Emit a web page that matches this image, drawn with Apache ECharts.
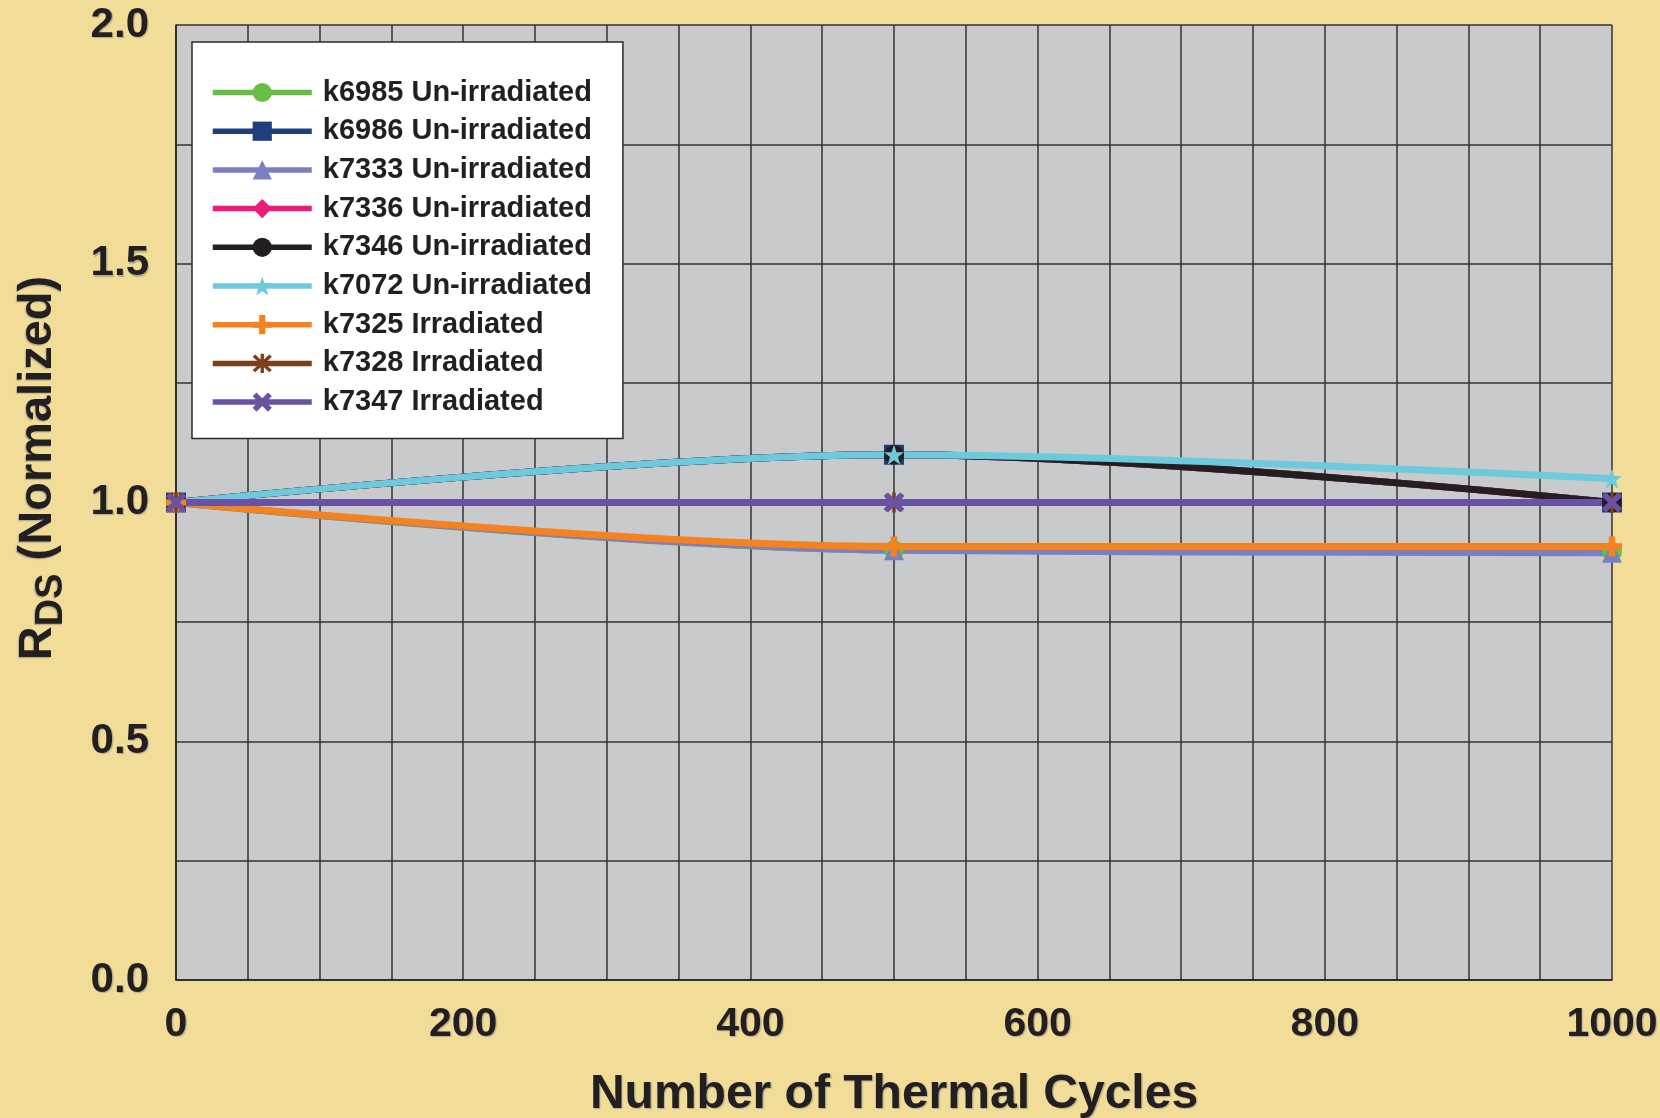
<!DOCTYPE html>
<html>
<head>
<meta charset="utf-8">
<title>RDS vs Thermal Cycles</title>
<script src="https://cdn.jsdelivr.net/npm/echarts@6/dist/echarts.min.js"></script>
<style>
  html, body { margin: 0; padding: 0; background: #f1dd97; }
  #chart { width: 1660px; height: 1118px; }
</style>
</head>
<body>
<div id="chart"></div>
<script>
// Thermal cycle counts at which R_DS was measured
const cycles = [0, 500, 1000];

// Normalized R_DS per device
const k6985 = [1.0, 0.90, 0.897];
const k6986 = [1.0, 1.10, 1.0];
const k7333 = [1.0, 0.90, 0.895];
const k7336 = [1.0, 1.10, 1.0];
const k7346 = [1.0, 1.10, 1.0];
const k7072 = [1.0, 1.10, 1.05];
const k7325 = [1.0, 0.908, 0.908];
const k7328 = [1.0, 1.0, 1.0];
const k7347 = [1.0, 1.0, 1.0];

const seriesNames = [
  'k6985 Un-irradiated', 'k6986 Un-irradiated', 'k7333 Un-irradiated',
  'k7336 Un-irradiated', 'k7346 Un-irradiated', 'k7072 Un-irradiated',
  'k7325 Irradiated', 'k7328 Irradiated', 'k7347 Irradiated'
];
const seriesValues = [k6985, k6986, k7333, k7336, k7346, k7072, k7325, k7328, k7347];

const xTicks = { min: 0, max: 1000, interval: 200 };
const yTicks = { min: 0, max: 2, interval: 0.5 };

// Marker shapes
const STAR = 'path://M50,0 L62,34 L98,34 L69,56 L80,92 L50,71 L20,92 L31,56 L2,34 L38,34 Z';
const PLUS = 'path://M34,0 H66 V34 H100 V66 H66 V100 H34 V66 H0 V34 H34 Z';
const CROSS = 'path://M20,0 L50,30 L80,0 L100,20 L70,50 L100,80 L80,100 L50,70 L20,100 L0,80 L30,50 L0,20 Z';
const ASTER = 'path://M16,4 L50,38 L84,4 L96,16 L62,50 L96,84 L84,96 L50,62 L16,96 L4,84 L38,50 L4,16 Z M42,0 H58 V100 H42 Z';

const styles = [
  { color: '#68bd45', symbol: 'circle' },
  { color: '#1e3f7c', symbol: 'rect' },
  { color: '#7b7fc1', symbol: 'triangle' },
  { color: '#ec1b7b', symbol: 'diamond' },
  { color: '#231f20', symbol: 'circle' },
  { color: '#6dcadc', symbol: STAR },
  { color: '#f58220', symbol: PLUS },
  { color: '#7a3f1b', symbol: ASTER },
  { color: '#6a52a3', symbol: CROSS }
];

const ink = '#231f20';
const font = 'Liberation Sans, Arial, sans-serif';
const shadow = {
  textShadowColor: 'rgba(70,80,120,0.35)',
  textShadowOffsetX: 1.2,
  textShadowOffsetY: 1.2,
  textShadowBlur: 1
};
const gridLine = { color: '#333333', width: 1.5 };

const chart = echarts.init(document.getElementById('chart'), null, { renderer: 'canvas' });

const option = {
  backgroundColor: '#f1dd97',
  animation: false,
  grid: {
    left: 176, right: 48, top: 25, bottom: 138,
    outerBoundsMode: 'none',
    containLabel: false,
    show: true, backgroundColor: '#c9cacc', borderWidth: 0
  },
  legend: {
    orient: 'vertical',
    left: 192,
    top: 42,
    padding: [36, 31, 22, 18],
    backgroundColor: '#ffffff',
    borderColor: '#2b2b2b',
    borderWidth: 1.5,
    borderRadius: 0,
    itemWidth: 99,
    itemHeight: 24,
    itemGap: 9.7,
    data: seriesNames,
    lineStyle: { width: 5.5 },
    textStyle: {
      fontFamily: font,
      fontWeight: 'bold',
      fontSize: 29,
      lineHeight: 28,
      color: ink,
      padding: [0, 0, 0, 6]
    }
  },
  xAxis: {
    type: 'value',
    min: xTicks.min,
    max: xTicks.max,
    interval: xTicks.interval,
    name: 'Number of Thermal Cycles',
    nameLocation: 'middle',
    nameGap: 91,
    nameTextStyle: Object.assign({
      fontFamily: font,
      fontWeight: 'bold',
      fontSize: 48,
      color: ink
    }, shadow),
    axisLine: { show: true, lineStyle: { color: '#222', width: 1.5 } },
    axisTick: { show: false },
    minorTick: { show: false, splitNumber: 4 },
    splitLine: { show: true, lineStyle: gridLine },
    minorSplitLine: { show: true, lineStyle: gridLine },
    axisLabel: Object.assign({
      margin: 24,
      fontFamily: font,
      fontWeight: 'bold',
      fontSize: 41,
      color: ink,
      showMinLabel: true,
      showMaxLabel: true,
      formatter: v => String(v)
    }, shadow)
  },
  yAxis: {
    type: 'value',
    min: yTicks.min,
    max: yTicks.max,
    interval: yTicks.interval,
    axisLine: { show: true, lineStyle: { color: '#222', width: 1.5 } },
    axisTick: { show: false },
    minorTick: { show: false, splitNumber: 2 },
    splitLine: { show: true, lineStyle: gridLine },
    minorSplitLine: { show: true, lineStyle: gridLine },
    axisLabel: Object.assign({
      margin: 27,
      fontFamily: font,
      fontWeight: 'bold',
      fontSize: 42,
      color: ink,
      formatter: v => v.toFixed(1)
    }, shadow)
  },
  graphic: [{
    type: 'text',
    x: 38,
    y: 468,
    rotation: Math.PI / 2,
    style: {
      text: '{a|R}{b|DS}{a| (Normalized)}',
      align: 'center',
      verticalAlign: 'middle',
      fill: ink,
      textShadowColor: shadow.textShadowColor,
      textShadowOffsetX: -1.2,
      textShadowOffsetY: 1.2,
      textShadowBlur: 1,
      rich: {
        a: { fontFamily: font, fontWeight: 'bold', fontSize: 47, lineHeight: 47, verticalAlign: 'top', fill: ink },
        b: { fontFamily: font, fontWeight: 'bold', fontSize: 38, lineHeight: 38, verticalAlign: 'top', padding: [18, 0, 0, 0], fill: ink }
      }
    }
  }],
  series: seriesNames.map((name, i) => ({
    name: name,
    type: 'line',
    smooth: 0.34,
    data: cycles.map((c, j) => [c, seriesValues[i][j]]),
    symbol: styles[i].symbol,
    symbolSize: 20,
    showAllSymbol: true,
    lineStyle: { color: styles[i].color, width: 7 },
    itemStyle: { color: styles[i].color, borderWidth: 0 },
    emphasis: { disabled: true }
  }))
};

chart.setOption(option);
</script>
</body>
</html>
